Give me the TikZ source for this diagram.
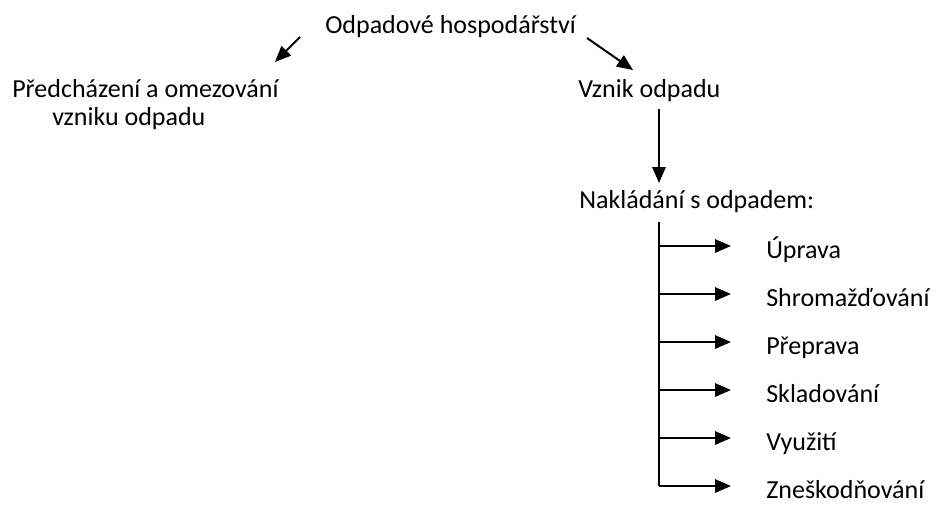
\documentclass[tikz,border=0pt]{standalone}
\usepackage{fontspec}
\setmainfont{Carlito}
\usetikzlibrary{arrows.meta}
\begin{document}
\begin{tikzpicture}[x=0.75pt,y=-0.75pt,
  lbl/.style={inner sep=0pt,anchor=base west,font=\fontsize{19.5}{28}\selectfont},
  arr/.style={line width=1.5pt,-{Triangle[length=12pt,width=10pt]}},
  ln/.style={line width=1.5pt}]
\useasboundingbox (0,0) rectangle (937,504);
\node[lbl] (title) at (325,33) {Odpadové hospodářství};
\node[lbl] (prev1) at (12,97) {Předcházení a omezování};
\node[lbl] (prev2) at (52,125) {vzniku odpadu};
\node[lbl] (vznik) at (578,97) {Vznik odpadu};
\node[lbl] (nakl) at (579,208) {Nakládání s odpadem:};
\coordinate (la) at (300,37);
\coordinate (lb) at (275,62);
\coordinate (ra) at (587,38);
\coordinate (rb) at (633,70);
\draw[arr] (la) -- (lb);
\draw[arr] (ra) -- (rb);
\coordinate (va) at (659,109);
\coordinate (vb) at (659,183);
\draw[arr] (va) -- (vb);
\coordinate (top) at (659,222);
\coordinate (bot) at (659,486);
\draw[ln] (top) -- (bot);
\foreach \t [count=\i from 0] in {Úprava,Shromažďování,Přeprava,Skladování,Využití,Zneškodňování}{
  \coordinate (s\i) at (659,{246+48*\i});
  \node[lbl] (t\i) at (766,{258+48*\i}) {\t};
  \draw[arr] (s\i) -- ++(72,0);
}
\end{tikzpicture}
\end{document}
